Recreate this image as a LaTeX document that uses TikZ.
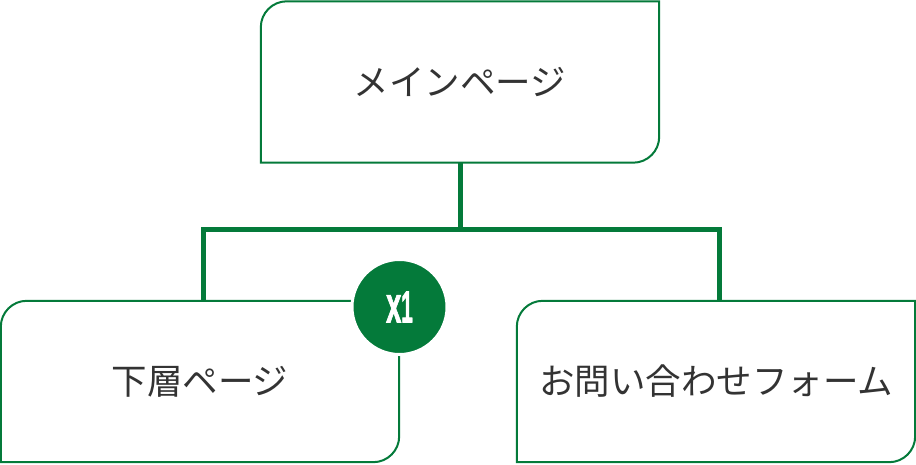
\documentclass[tikz,border=0pt]{standalone}
\usepackage{fontspec}
\usepackage{tikz}
\usetikzlibrary{calc}
\usetikzlibrary{shapes}
\newfontfamily\jpfont{Noto Sans CJK JP}
\newfontfamily\badgefont{Liberation Sans}[BoldFeatures={FakeBold=2}]
\definecolor{sitegreen}{RGB}{4,122,58}
\definecolor{labelgray}{RGB}{51,51,51}
\tikzset{
  pagelabel/.style={shape=rectangle,draw=none,fill=none,inner sep=0pt,minimum width=398pt,minimum height=161pt,text=labelgray,font=\jpfont\fontsize{35.5}{40}\selectfont},
  boxline/.style={draw=sitegreen,line width=2pt},
  treeline/.style={draw=sitegreen,line width=5pt},
  badge/.style={shape=circle,fill=sitegreen,draw=white,line width=3pt,inner sep=0pt,minimum size=95pt,text=white,font=\badgefont\bfseries\fontsize{32}{32}\selectfont}
}
\newcommand{\pagebox}[1]{\draw[boxline] ([yshift=-26pt]#1.north west) arc[start angle=180,end angle=90,radius=26pt] -- (#1.north east) -- ([yshift=26pt]#1.south east) arc[start angle=0,end angle=-90,radius=26pt] -- (#1.south west) -- cycle;}

\begin{document}
\begin{tikzpicture}[x=1pt,y=1pt]
        \useasboundingbox (0,0) rectangle (916,464);
        % pages
        \node[pagelabel] (main) at (460,382) {メインページ};
        \node[pagelabel] (sub) at (200,82.5) {下層ページ};
        \node[pagelabel] (form) at (716,82.5) {お問い合わせフォーム};
        % tree lines
        \coordinate (fork) at ($(main.south)+(0,-66.5)$);
        \draw[treeline] (main.south) -- (fork);
        \draw[treeline] ([xshift=3pt]sub.north) |- (fork) -| ([xshift=3pt]form.north);
        % outlines
        \pagebox{main}
        \pagebox{sub}
        \pagebox{form}
        % badge
        \node[badge] (count) at (399.5,157) {\scalebox{0.85}[1.6]{x}\scalebox{0.65}[1.4]{1}};
    \end{tikzpicture}
\end{document}
